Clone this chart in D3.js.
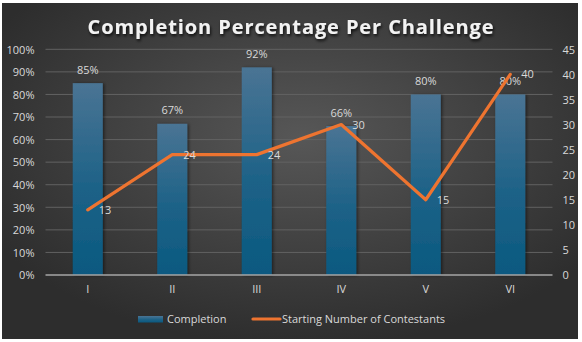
<!DOCTYPE html>
<html>
<head>
<meta charset="utf-8">
<script src="https://cdn.jsdelivr.net/npm/d3@7/dist/d3.min.js"></script>
<style>
  html, body { margin: 0; padding: 0; background: #ffffff; }
  svg { display: block; }
  text { font-family: "Open Sans", "DejaVu Sans", sans-serif; }
</style>
</head>
<body>
<svg id="chart" width="582" height="342"></svg>
<script>
// Challenge data
const categories = ["I", "II", "III", "IV", "V", "VI"];
const completion = [0.85, 0.67, 0.92, 0.66, 0.80, 0.80];
const contestants = [13, 24, 24, 30, 15, 40];
const leftTicks = [0, 0.1, 0.2, 0.3, 0.4, 0.5, 0.6, 0.7, 0.8, 0.9, 1.0];
const rightTicks = [0, 5, 10, 15, 20, 25, 30, 35, 40, 45];

const svg = d3.select("#chart");
const W = 582, H = 342;
const plot = { left: 45.5, right: 552.5, top: 49.3, bottom: 275 };

const defs = svg.append("defs");

// Background: soft radial glow on a dark panel
const bg = defs.append("radialGradient").attr("id", "bgGrad")
  .attr("cx", "52%").attr("cy", "40%").attr("r", "62%");
bg.append("stop").attr("offset", "0%").attr("stop-color", "#575757");
bg.append("stop").attr("offset", "100%").attr("stop-color", "#2d2d2d");

// Bar fill: lighter steel blue at the top fading into deep teal-blue
const barGrad = defs.append("linearGradient").attr("id", "barGrad")
  .attr("x1", 0).attr("y1", 0).attr("x2", 0).attr("y2", 1);
barGrad.append("stop").attr("offset", "0%").attr("stop-color", "#4a7494");
barGrad.append("stop").attr("offset", "55%").attr("stop-color", "#1d6287");
barGrad.append("stop").attr("offset", "100%").attr("stop-color", "#0a5980");

const shadow = defs.append("filter").attr("id", "barShadow")
  .attr("x", "-30%").attr("y", "-10%").attr("width", "160%").attr("height", "120%");
shadow.append("feDropShadow").attr("dx", 1.5).attr("dy", 0.5)
  .attr("stdDeviation", 1.5).attr("flood-color", "#000").attr("flood-opacity", 0.5);

const titleShadow = defs.append("filter").attr("id", "titleShadow")
  .attr("x", "-10%").attr("y", "-40%").attr("width", "120%").attr("height", "180%");
titleShadow.append("feDropShadow").attr("dx", 1).attr("dy", 2)
  .attr("stdDeviation", 1.5).attr("flood-color", "#000").attr("flood-opacity", 0.8);

svg.append("rect").attr("x", 2).attr("y", 3).attr("width", 576).attr("height", 336)
  .attr("fill", "url(#bgGrad)");

// Scales
const x = d3.scaleBand().domain(categories)
  .range([plot.left, plot.right]).paddingInner(0.645).paddingOuter(0.3225);
const yL = d3.scaleLinear().domain([0, 1]).range([plot.bottom, plot.top]);
const yR = d3.scaleLinear().domain([0, 45]).range([plot.bottom, plot.top]);
const cx = c => x(c) + x.bandwidth() / 2;

// Gridlines
svg.append("g").selectAll("line").data(leftTicks.slice(1)).join("line")
  .attr("x1", plot.left).attr("x2", plot.right)
  .attr("y1", d => yL(d)).attr("y2", d => yL(d))
  .attr("stroke", "#626262").attr("stroke-width", 1);

// Left axis (percent)
const axisL = svg.append("g").attr("transform", `translate(${plot.left - 11},0)`)
  .call(d3.axisLeft(yL).tickValues(leftTicks).tickFormat(d3.format(".0%")).tickSize(0).tickPadding(0));
axisL.select(".domain").remove();
axisL.selectAll("text").attr("fill", "#d9d9d9").style("font-size", "11px").attr("dy", "0.34em");

// Right axis (contestants)
const axisR = svg.append("g").attr("transform", `translate(${plot.right + 10},0)`)
  .call(d3.axisRight(yR).tickValues(rightTicks).tickSize(0).tickPadding(0));
axisR.select(".domain").remove();
axisR.selectAll("text").attr("fill", "#d9d9d9").style("font-size", "11px").attr("dy", "0.34em");

// Bars
svg.append("g").selectAll("rect").data(categories).join("rect")
  .attr("x", d => x(d)).attr("width", x.bandwidth())
  .attr("y", (d, i) => yL(completion[i]))
  .attr("height", (d, i) => plot.bottom - yL(completion[i]))
  .attr("fill", "url(#barGrad)").attr("filter", "url(#barShadow)");

// Category axis
const axisB = svg.append("g").attr("transform", `translate(0,${plot.bottom})`)
  .call(d3.axisBottom(x).tickSize(0).tickPadding(0));
axisB.select(".domain").attr("stroke", "#a6a6a6").attr("stroke-width", 1.3)
  .attr("d", `M${plot.left},0H${plot.right}`);
axisB.selectAll("text").attr("fill", "#d9d9d9").style("font-size", "11px")
  .attr("y", 18).attr("dy", 0);

// Percent labels above bars
svg.append("g").selectAll("text").data(categories).join("text")
  .attr("x", d => cx(d)).attr("y", (d, i) => yL(completion[i]) - 9.5)
  .attr("text-anchor", "middle").attr("fill", "#d9d9d9").style("font-size", "11px")
  .text((d, i) => d3.format(".0%")(completion[i]));

// Contestant line
const line = d3.line().x((d, i) => cx(categories[i])).y(d => yR(d));
svg.append("path").datum(contestants).attr("d", line)
  .attr("fill", "none").attr("stroke", "#ee7430").attr("stroke-width", 3.2)
  .attr("stroke-linejoin", "round").attr("stroke-linecap", "round");

svg.append("g").selectAll("text").data(contestants).join("text")
  .attr("x", (d, i) => cx(categories[i]) + 11).attr("y", d => yR(d) + 4)
  .attr("fill", "#d9d9d9").style("font-size", "11px")
  .text(d => d);

// Title
svg.append("text").attr("x", 291).attr("y", 34).attr("text-anchor", "middle")
  .attr("fill", "#f2f2f2").style("font-size", "20px").style("font-weight", 700)
  .style("letter-spacing", "0.9px").attr("filter", "url(#titleShadow)")
  .text("Completion Percentage Per Challenge");

// Legend
const legend = svg.append("g");
legend.append("rect").attr("x", 138).attr("y", 316).attr("width", 25).attr("height", 6.5)
  .attr("fill", "url(#barGrad)");
legend.append("text").attr("x", 167).attr("y", 323).attr("fill", "#d9d9d9")
  .style("font-size", "11px").text("Completion");
legend.append("line").attr("x1", 253).attr("x2", 280).attr("y1", 319).attr("y2", 319)
  .attr("stroke", "#ee7430").attr("stroke-width", 3.2).attr("stroke-linecap", "round");
legend.append("text").attr("x", 282).attr("y", 323).attr("fill", "#d9d9d9")
  .style("font-size", "11px").text("Starting Number of Contestants");
</script>
</body>
</html>
